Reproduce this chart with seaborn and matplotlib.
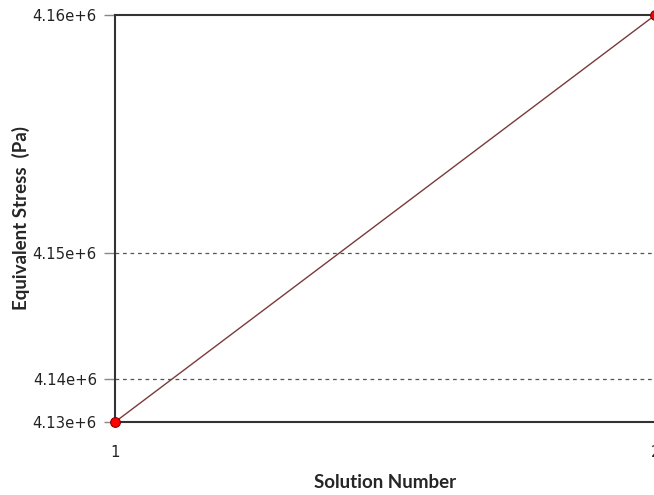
import matplotlib
matplotlib.use('Agg')
import matplotlib.pyplot as plt
import seaborn as sns
import pandas as pd

solution = [1, 2]
stress = [4.130e6, 4.160e6]

# tick positions as drawn by the original chart (labels are rounded)
ytick_values = [4.1300e6, 4.13317e6, 4.14245e6, 4.1600e6]
ytick_labels = ['4.13e+6', '4.14e+6', '4.15e+6', '4.16e+6']
xtick_values = [1, 2]
xtick_labels = ['1', '2']

sns.set_style('white')
plt.rcParams['font.family'] = ['DejaVu Sans']

df = pd.DataFrame({'Solution Number': solution, 'Equivalent Stress (Pa)': stress})

fig = plt.figure(figsize=(6.54, 4.95), dpi=100)
ax = fig.add_axes([115 / 654, 73 / 495, 1 - 115 / 654 + 0.002, 407 / 495])

sns.lineplot(data=df, x='Solution Number', y='Equivalent Stress (Pa)', ax=ax,
             color='#7a3a3a', linewidth=1.0, marker='o', markersize=7,
             markerfacecolor='#ff0000', markeredgecolor='#8a0000',
             markeredgewidth=0.8, clip_on=False, zorder=5)

ax.set_xlim(1, 2)
ax.set_ylim(ytick_values[0], ytick_values[-1])
ax.set_yticks(ytick_values)
ax.set_yticklabels(ytick_labels)
ax.set_xticks(xtick_values)
ax.set_xticklabels(xtick_labels)

for y in ytick_values[1:-1]:
    ax.axhline(y, color='#555555', linestyle=(0, (3, 3)), linewidth=0.9, zorder=1)

for side in ['left', 'bottom', 'top']:
    ax.spines[side].set_color('#333333')
    ax.spines[side].set_linewidth(1.5)
ax.spines['right'].set_visible(False)

ax.tick_params(axis='y', which='major', left=True, length=8, width=1, color='#888888',
               labelsize=10.7, pad=5, labelcolor='#222222')
ax.tick_params(axis='x', which='major', bottom=False, labelsize=10.7, pad=13,
               labelcolor='#222222')

ax.set_xlabel('Solution Number', fontsize=13.5, fontweight='bold', labelpad=10,
              family='Lato')
ax.set_ylabel('Equivalent Stress  (Pa)', fontsize=13.5, fontweight='bold',
              family='Lato')
ax.yaxis.set_label_coords(-0.158, 0.5)

fig.savefig('out.png', dpi=100)
